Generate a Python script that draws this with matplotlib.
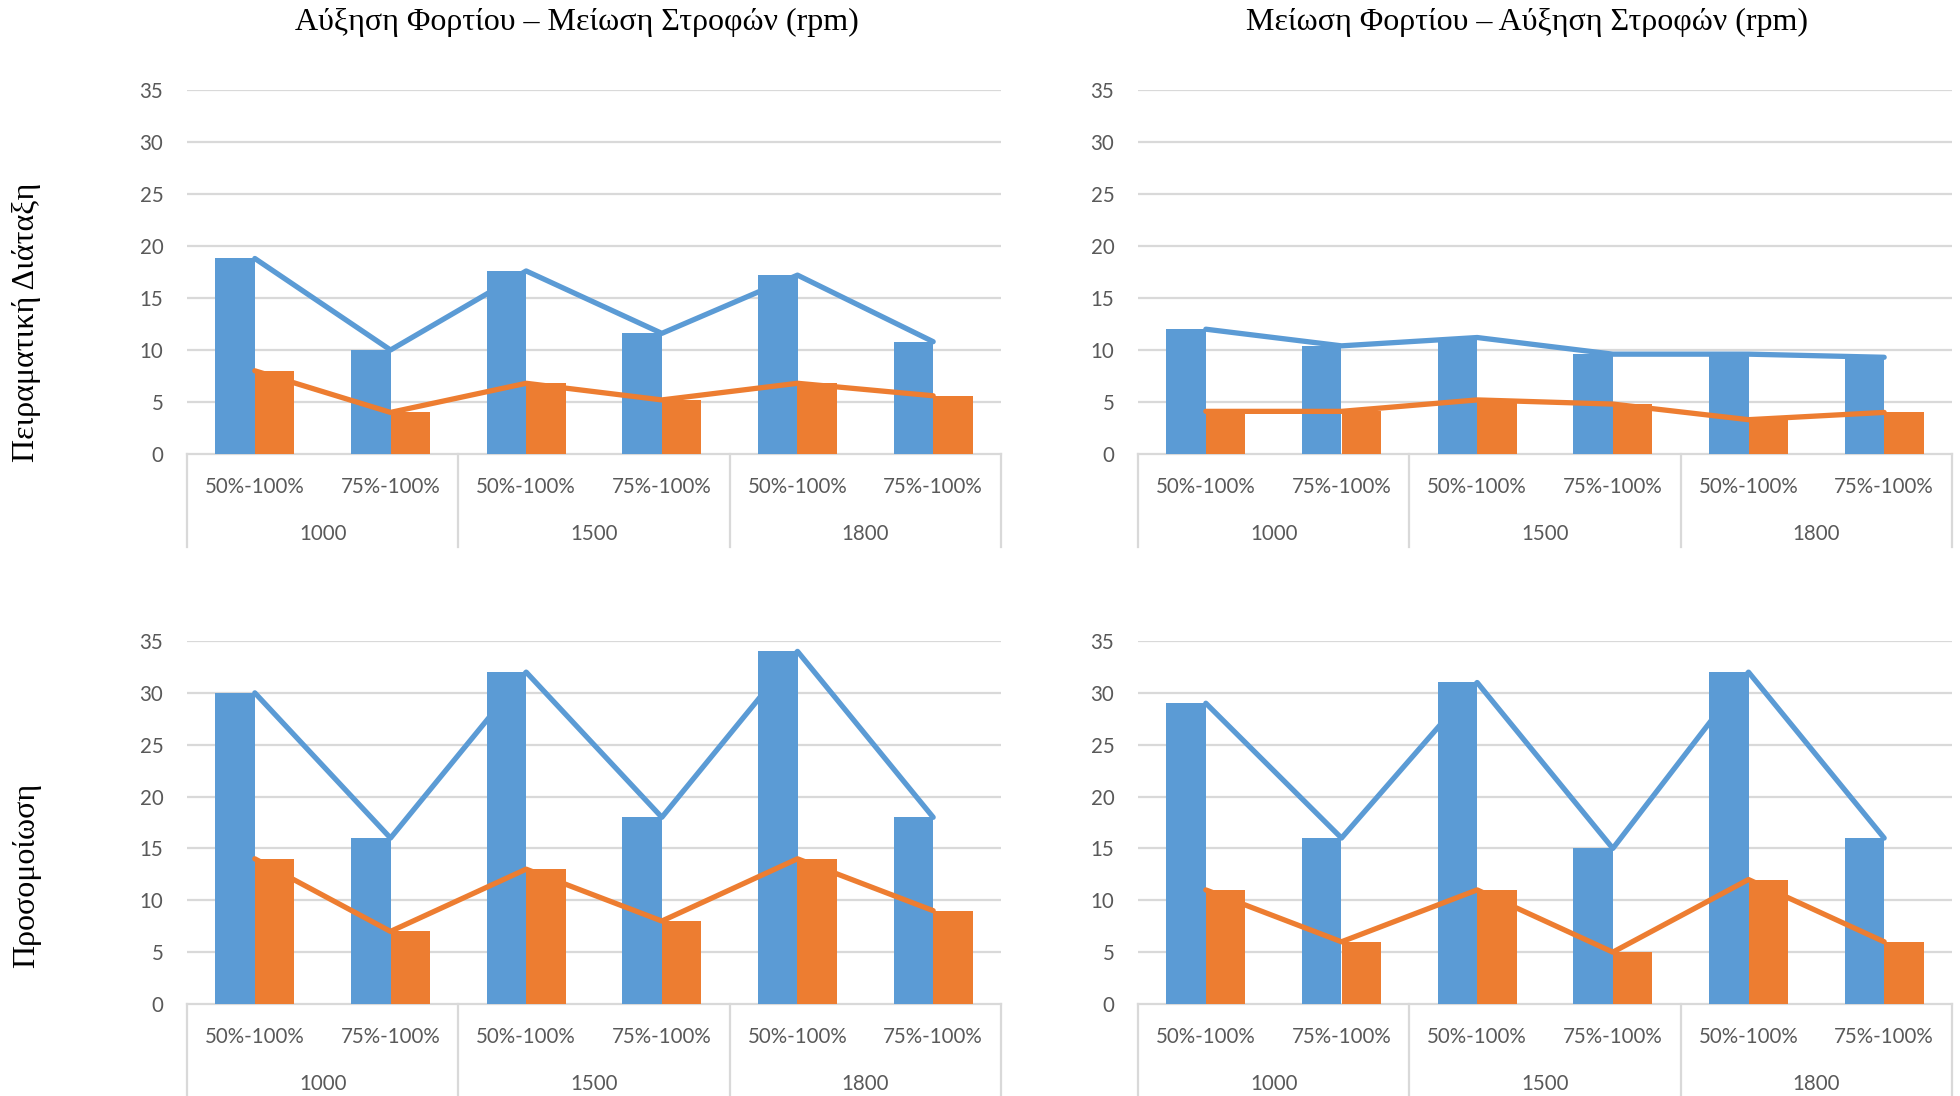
import matplotlib
matplotlib.use("Agg")
import matplotlib.pyplot as plt
import matplotlib.transforms as mtransforms
import numpy as np

# Load ranges and speed groups on the category axis
load_steps = ["50%-100%", "75%-100%", "50%-100%", "75%-100%", "50%-100%", "75%-100%"]
speed_groups = ["1000", "1500", "1800"]

col_titles = ["Αύξηση Φορτίου – Μείωση Στροφών (rpm)",
              "Μείωση Φορτίου – Αύξηση Στροφών (rpm)"]
row_titles = ["Πειραματική Διάταξη", "Προσομοίωση"]

# Experimental setup
exp_inc_blue = [18.8, 10.0, 17.6, 11.6, 17.2, 10.8]
exp_inc_orange = [8.0, 4.0, 6.8, 5.2, 6.8, 5.6]
exp_dec_blue = [12.0, 10.4, 11.2, 9.6, 9.6, 9.3]
exp_dec_orange = [4.1, 4.1, 5.2, 4.8, 3.3, 4.0]

# Simulation
sim_inc_blue = [30, 16, 32, 18, 34, 18]
sim_inc_orange = [14, 7, 13, 8, 14, 9]
sim_dec_blue = [29, 16, 31, 15, 32, 16]
sim_dec_orange = [11, 6, 11, 5, 12, 6]

y_ticks = [0, 5, 10, 15, 20, 25, 30, 35]

BLUE = "#5B9BD5"
ORANGE = "#ED7D31"
GRID = "#D9D9D9"
TXT = "#595959"

W, H = 1960, 1096
fig = plt.figure(figsize=(W / 100, H / 100), dpi=100)

def px_axes(x0, y_top, x1, y_bottom):
    return fig.add_axes([x0 / W, 1 - y_bottom / H, (x1 - x0) / W, (y_bottom - y_top) / H])

panels = [
    (px_axes(187, 90, 1001, 454), exp_inc_blue, exp_inc_orange),
    (px_axes(1138, 90, 1952, 454), exp_dec_blue, exp_dec_orange),
    (px_axes(187, 641, 1001, 1004), sim_inc_blue, sim_inc_orange),
    (px_axes(1138, 641, 1952, 1004), sim_dec_blue, sim_dec_orange),
]

tick_font = dict(family="Lato", size=14.8, color=TXT)
bw = 0.29

for ax, blue, orange in panels:
    x = np.arange(len(load_steps))
    ax.set_xlim(-0.5, len(load_steps) - 0.5)
    ax.set_ylim(0, 35)
    for s in ax.spines.values():
        s.set_visible(False)
    ax.set_yticks(y_ticks)
    ax.set_yticklabels([str(t) for t in y_ticks], **tick_font)
    ax.tick_params(axis="y", length=0, pad=17)
    ax.set_xticks([])
    for t in y_ticks[1:]:
        ax.axhline(t, color=GRID, lw=1.6, zorder=0)

    ax.bar(x - bw / 2, blue, width=bw, color=BLUE, zorder=2)
    ax.bar(x + bw / 2, orange, width=bw, color=ORANGE, zorder=2)
    ax.plot(x, blue, color=BLUE, lw=3.8, zorder=3,
            solid_capstyle="round", solid_joinstyle="round")
    ax.plot(x, orange, color=ORANGE, lw=3.8, zorder=4,
            solid_capstyle="round", solid_joinstyle="round")

    # Multi-level category axis drawn below the plot area
    trans = mtransforms.blended_transform_factory(ax.transData, ax.transAxes)
    ax.plot([-0.5, len(load_steps) - 0.5], [0, 0], transform=trans,
            color=GRID, lw=1.6, clip_on=False, zorder=1)
    for xd in [-0.5, 1.5, 3.5, 5.5]:
        ax.plot([xd, xd], [0, -0.255], transform=trans, color=GRID, lw=1.6,
                clip_on=False)
    for i, lab in enumerate(load_steps):
        ax.text(i, -33 / 364, lab, transform=trans, ha="center", va="center",
                **tick_font)
    for g, lab in enumerate(speed_groups):
        ax.text(2 * g + 0.5, -80 / 364, lab, transform=trans, ha="center",
                va="center", **tick_font)

title_font = dict(family="Liberation Serif", size=23, color="black")
fig.text(577 / W, 1 - 22 / H, col_titles[0], ha="center", va="center", **title_font)
fig.text(1527 / W, 1 - 22 / H, col_titles[1], ha="center", va="center", **title_font)
fig.text(27 / W, 1 - 322 / H, row_titles[0], ha="center", va="center",
         rotation=90, **title_font)
fig.text(27 / W, 1 - 875 / H, row_titles[1], ha="center", va="center",
         rotation=90, **title_font)

fig.savefig("out.png", dpi=100)
